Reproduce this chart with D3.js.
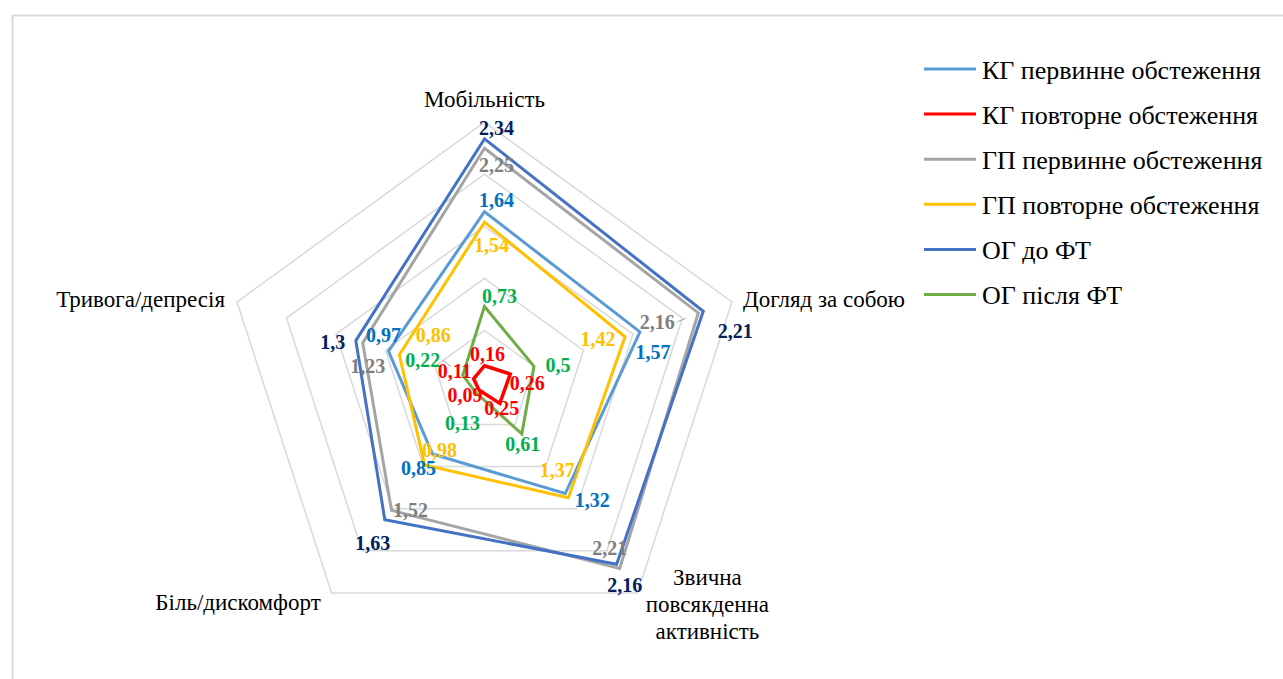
<!DOCTYPE html>
<html>
<head>
<meta charset="utf-8">
<script src="https://cdn.jsdelivr.net/npm/d3@7/dist/d3.min.js"></script>
<style>
  html, body { margin: 0; padding: 0; background: #fff; }
  svg { display: block; }
  text { font-family: "Liberation Serif", "Times New Roman", serif; }
</style>
</head>
<body>
<svg id="chart" width="1283" height="679"></svg>
<script>
// Axes of the radar (EQ-5D domains)
const axes = ["Мобільність", "Догляд за собою", "Звична повсякденна активність", "Біль/дискомфорт", "Тривога/депресія"];

// Series names
const seriesNames = [
  "КГ первинне обстеження",
  "КГ повторне обстеження",
  "ГП первинне обстеження",
  "ГП повторне обстеження",
  "ОГ до ФТ",
  "ОГ після ФТ"
];

// Series values, in the order of the axes
const kgFirst  = [1.64, 1.57, 1.32, 0.85, 0.97];
const kgRepeat = [0.16, 0.26, 0.25, 0.09, 0.11];
const gpFirst  = [2.25, 2.16, 2.21, 1.52, 1.23];
const gpRepeat = [1.54, 1.42, 1.37, 0.98, 0.86];
const ogBefore = [2.34, 2.21, 2.16, 1.63, 1.30];
const ogAfter  = [0.73, 0.50, 0.61, 0.13, 0.22];

// Radial grid levels
const gridLevels = [0.5, 1.0, 1.5, 2.0, 2.5];

// Styling
const lineColors  = ["#5B9BD5", "#FF0000", "#A5A5A5", "#FFC000", "#4472C4", "#70AD47"];
const labelColors = ["#0070C0", "#FF0000", "#7F7F7F", "#FFC000", "#002060", "#00B050"];
const lineWidths  = [3, 3.5, 3, 3, 3, 3];

// Data label placement relative to each point [dx, dy], per series and axis
const labelOffsets = [
  [[12, -12], [13, 20], [27, 6], [-14, 14], [-5, -16]],
  [[3, -12], [17, 9], [2, 5], [-14, 5], [-19, -8]],
  [[12, 17], [-41, 9], [-10, -20], [19, 0], [5, 23]],
  [[7, 23], [-27, 2], [-11, -28], [15, -15], [34, -20]],
  [[12, -11], [32, 20], [8, 21], [-12, 23], [-23, 1]],
  [[15, -10], [24, -1], [1, 10], [-14, 30], [-40, -15]]
];

const allSeries = [kgFirst, kgRepeat, gpFirst, gpRepeat, ogBefore, ogAfter];

const svg = d3.select("#chart");
const cx = 484.5, cy = 382.4;

// Chart frame
svg.append("rect")
  .attr("x", 12.5).attr("y", 15.5)
  .attr("width", 1300).attr("height", 700)
  .attr("fill", "none").attr("stroke", "#D9D9D9").attr("stroke-width", 2);

const r = d3.scaleLinear().domain([0, 2.5]).range([0, 260.2]);
const angle = d3.scaleLinear().domain([0, axes.length]).range([0, 2 * Math.PI]);

const pointAt = (i, v) => {
  const a = angle(i);
  return [cx + r(v) * Math.sin(a), cy - r(v) * Math.cos(a)];
};

const g = svg.append("g").attr("transform", `translate(${cx},${cy})`);

// Grid rings
const ring = d3.lineRadial()
  .angle((d, i) => angle(i))
  .radius(d => r(d))
  .curve(d3.curveLinearClosed);

g.selectAll("path.grid")
  .data(gridLevels)
  .join("path")
  .attr("class", "grid")
  .attr("d", lv => ring(axes.map(() => lv)))
  .attr("fill", "none")
  .attr("stroke", "#D9D9D9")
  .attr("stroke-width", 1.5);

// Series polygons
g.selectAll("path.series")
  .data(allSeries)
  .join("path")
  .attr("class", "series")
  .attr("d", d => ring(d))
  .attr("fill", "none")
  .attr("stroke", (d, i) => lineColors[i])
  .attr("stroke-width", (d, i) => lineWidths[i])
  .attr("stroke-linejoin", "miter");

// Leader lines for a few offset labels
const leaders = [[2, 1], [3, 2], [5, 4]];
leaders.forEach(([s, a]) => {
  const [px, py] = pointAt(a, allSeries[s][a]);
  const [dx, dy] = labelOffsets[s][a];
  const tx = px + dx, ty = py + dy;
  const ex = dx < 0 ? tx + 20 : tx - 20;
  svg.append("path")
    .attr("d", `M${ex},${ty} L${ex + (px - ex) * 0.4},${ty + (py - ty) * 0.4}`)
    .attr("stroke", "#A6A6A6").attr("stroke-width", 1).attr("fill", "none");
});

// Data labels
allSeries.forEach((vals, s) => {
  vals.forEach((v, a) => {
    const [px, py] = pointAt(a, v);
    const [dx, dy] = labelOffsets[s][a];
    svg.append("text")
      .attr("x", px + dx).attr("y", py + dy)
      .attr("text-anchor", "middle")
      .attr("dominant-baseline", "central")
      .attr("font-size", 20).attr("font-weight", "bold")
      .attr("fill", labelColors[s])
      .text(String(v).replace(".", ","));
  });
});

// Axis category labels
const axisLabelPos = [
  { dx: 0, dy: -23, anchor: "middle", lines: [axes[0]] },
  { dx: 11, dy: -2, anchor: "start", lines: [axes[1]] },
  { dx: 70, dy: -15, anchor: "middle", lines: ["Звична", "повсякденна", "активність"] },
  { dx: -93.5, dy: 10, anchor: "middle", lines: [axes[3]] },
  { dx: -12, dy: -2, anchor: "end", lines: [axes[4]] }
];
axisLabelPos.forEach((p, i) => {
  const [vx, vy] = pointAt(i, 2.5);
  const t = svg.append("text")
    .attr("text-anchor", p.anchor)
    .attr("font-size", 23)
    .attr("fill", "#000");
  p.lines.forEach((ln, k) => {
    t.append("tspan")
      .attr("x", vx + p.dx)
      .attr("y", vy + p.dy + k * 27)
      .attr("dominant-baseline", "central")
      .text(ln);
  });
});

// Legend
const legend = svg.append("g").attr("transform", "translate(924,69)");
seriesNames.forEach((name, i) => {
  const row = legend.append("g").attr("transform", `translate(0,${i * 45.1})`);
  row.append("line")
    .attr("x1", 0).attr("x2", 52).attr("y1", 0).attr("y2", 0)
    .attr("stroke", lineColors[i]).attr("stroke-width", 3);
  row.append("text")
    .attr("x", 58).attr("y", 1)
    .attr("dominant-baseline", "central")
    .attr("font-size", 26)
    .attr("fill", "#000")
    .text(name);
});
</script>
</body>
</html>
